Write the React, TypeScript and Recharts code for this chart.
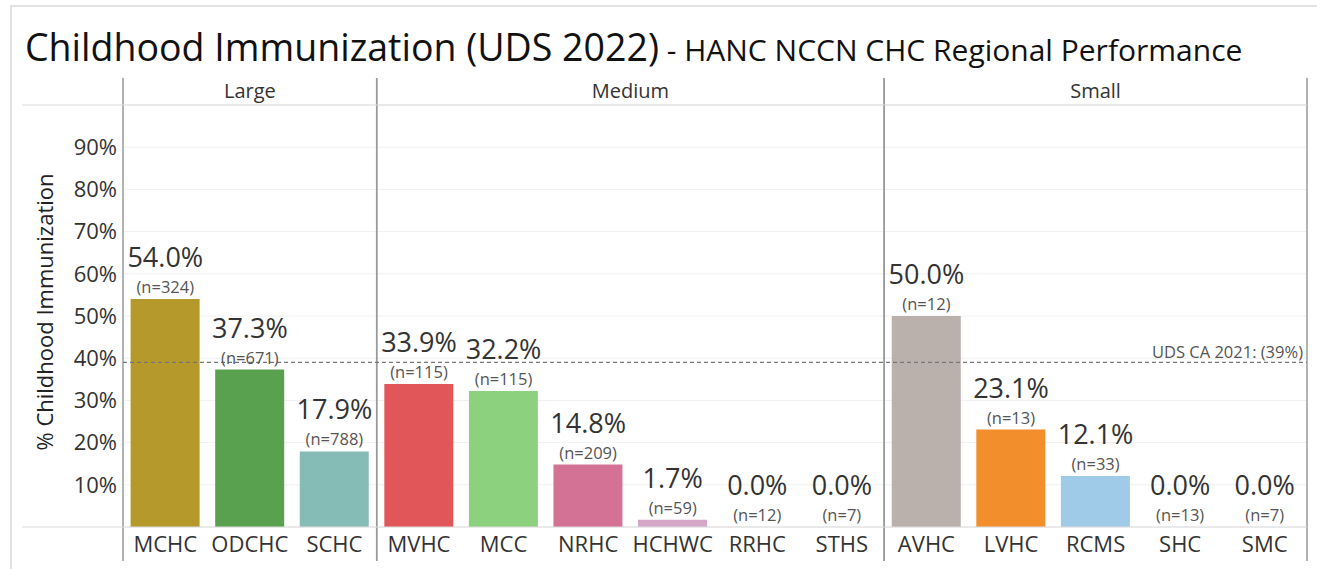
import { Bar, BarChart, CartesianGrid, Cell, ReferenceArea, ReferenceDot, ReferenceLine, XAxis, YAxis } from 'recharts';

// values
const sites = ['MCHC', 'ODCHC', 'SCHC', 'MVHC', 'MCC', 'NRHC', 'HCHWC', 'RRHC', 'STHS', 'AVHC', 'LVHC', 'RCMS', 'SHC', 'SMC'];
const rates = [54.0, 37.3, 17.9, 33.9, 32.2, 14.8, 1.7, 0, 0, 50.0, 23.1, 12.1, 0, 0];
const counts = [324, 671, 788, 115, 115, 209, 59, 12, 7, 12, 13, 33, 13, 7];
const barColors = ['#B5992B', '#59A14F', '#86BCB6', '#E15759', '#8CD17D', '#D37295', '#D4A6C8', '#BAB0AC', '#BAB0AC', '#BAB0AC', '#F28E2B', '#A0CBE8', '#A0CBE8', '#A0CBE8'];
const groups = ['Large', 'Medium', 'Small'];
const groupSizes = [3, 6, 5];
const yTicks = [10, 20, 30, 40, 50, 60, 70, 80, 90];
const benchmark = 39;

const FONT = '"Open Sans", "Noto Sans", sans-serif';

const data = sites.map((site, i) => ({ site, rate: rates[i], n: counts[i] }));

// first and last site of each size group
const groupSpans = groups.map((name, i) => {
  const start = groupSizes.slice(0, i).reduce((a, b) => a + b, 0);
  return { name, first: sites[start], last: sites[start + groupSizes[i] - 1] };
});

const panelShape = (name: string) => (props: any) => {
  const { x, y, width, height } = props;
  return (
    <g>
      <line x1={x} x2={x} y1={y - 27} y2={y + height + 34} stroke="#9a9a9a" strokeWidth={1.5} />
      <line x1={x + width} x2={x + width} y1={y - 27} y2={y + height + 34} stroke="#9a9a9a" strokeWidth={1.5} />
      <text x={x + width / 2} y={y - 7} textAnchor="middle" fontSize={20} fill="#333" fontFamily={FONT}>
        {name}
      </text>
    </g>
  );
};

const Rule = (props: any) => (
  <line x1={22} x2={Math.max(props.x1, props.x2)} y1={props.y1} y2={props.y2} stroke="#dcdcdc" strokeWidth={1.2} />
);

const labelShape = (i: number) => (props: any) => (
  <g fontFamily={FONT}>
    <text x={props.cx} y={props.cy - 32} textAnchor="middle" fontSize={27} fill="#333">
      {rates[i].toFixed(1)}%
    </text>
    <text x={props.cx} y={props.cy - 6} textAnchor="middle" fontSize={16.5} fill="#555">
      (n={counts[i]})
    </text>
  </g>
);

export default function App() {
  return (
    <div style={{ position: 'absolute', left: 0, top: 0, width: 1317, height: 569, background: '#fff', fontFamily: FONT }}>
      <div style={{ position: 'absolute', left: 10, top: 5, width: 1307, height: 564, borderTop: '2px solid #e2e2e2', borderLeft: '2px solid #e2e2e2' }} />
      <div style={{ position: 'absolute', left: 25, top: 21, whiteSpace: 'nowrap', color: '#111' }}>
        <span style={{ fontSize: 37.5 }}>Childhood Immunization (UDS 2022)</span>
        <span style={{ fontSize: 30 }}> - HANC NCCN CHC Regional Performance</span>
      </div>
      <svg width={100} height={569} style={{ position: 'absolute', left: 0, top: 0 }}>
        <text transform="translate(53,312) rotate(-90)" textAnchor="middle" fontSize={22} fill="#222" fontFamily={FONT}>
          % Childhood Immunization
        </text>
      </svg>
      <div style={{ position: 'absolute', left: 0, top: 0 }}>
        <BarChart width={1317} height={569} data={data} margin={{ top: 105, right: 10, bottom: 12, left: 43 }} barCategoryGap="9%">
          <CartesianGrid vertical={false} stroke="#f0f0f0" />
          <XAxis dataKey="site" height={30} tickLine={false} axisLine={false} tickSize={0} tickMargin={9} interval={0}
            tick={{ fontSize: 22, fill: '#333', fontFamily: FONT }} />
          <YAxis width={80} domain={[0, 100]} ticks={yTicks} tickFormatter={(v) => `${v}%`} tickLine={false} axisLine={false}
            tickSize={0} tickMargin={6} tick={{ fontSize: 22, fill: '#333', fontFamily: FONT }} />
          <ReferenceLine y={0} shape={Rule} />
          <ReferenceLine y={100} shape={Rule} />
          <Bar dataKey="rate" isAnimationActive={false}>
            {data.map((d, i) => (
              <Cell key={d.site} fill={barColors[i]} />
            ))}
          </Bar>
          <ReferenceLine y={benchmark} stroke="#777" strokeDasharray="4 3" strokeWidth={1.2}
            label={{ value: `UDS CA 2021: (${benchmark}%)`, position: 'insideBottomRight', fontSize: 16.5, fill: '#555', fontFamily: FONT, offset: 4 }} />
          {data.map((d, i) => (
            <ReferenceDot key={`l${d.site}`} x={d.site} y={d.rate} shape={labelShape(i)} />
          ))}
          {groupSpans.map((g) => (
            <ReferenceArea key={g.name} x1={g.first} x2={g.last} shape={panelShape(g.name)} />
          ))}
        </BarChart>
      </div>
    </div>
  );
}
